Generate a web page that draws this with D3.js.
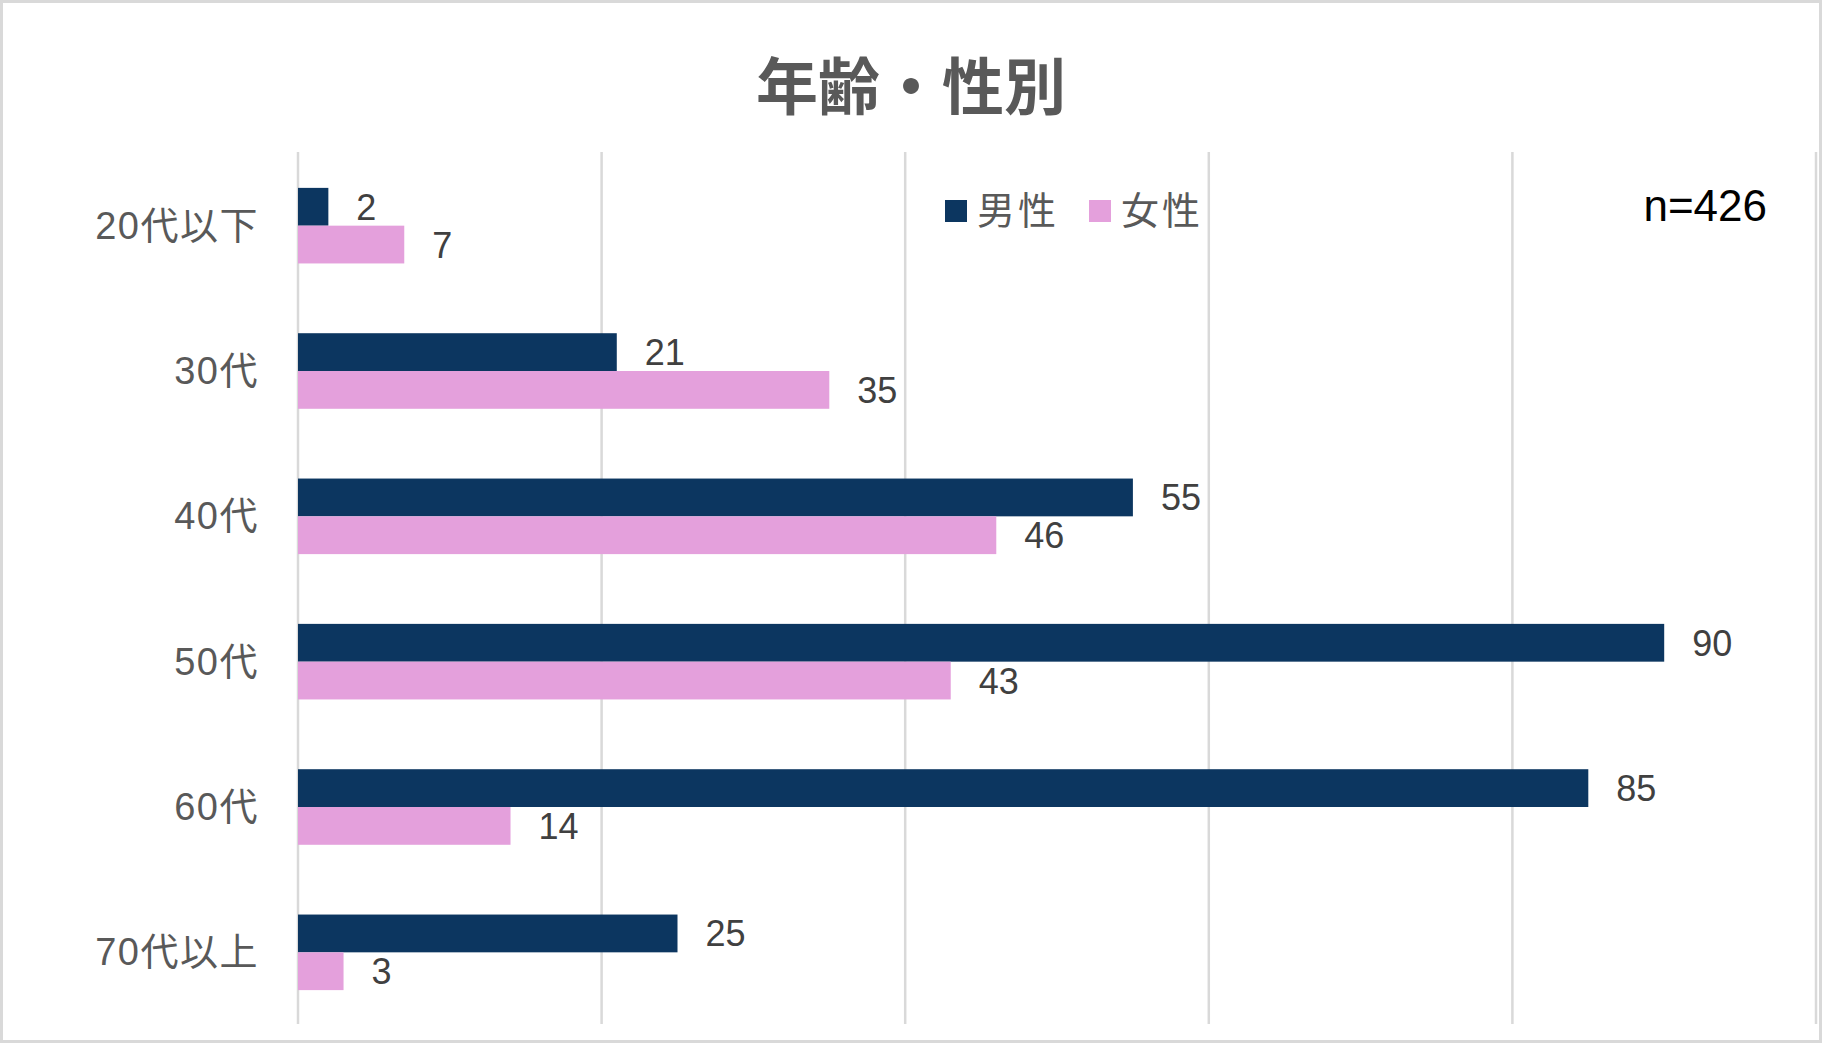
<!DOCTYPE html>
<html>
<head>
<meta charset="utf-8">
<script src="https://cdn.jsdelivr.net/npm/d3@7"></script>
<style>
  body { margin: 0; background: #fff; }
  svg text { font-family: "Liberation Sans", Arial, "Noto Sans CJK JP", sans-serif; }
</style>
</head>
<body>
<svg id="chart" width="1822" height="1043"></svg>
<script>
// age groups and counts by sex
const categories = ["20代以下", "30代", "40代", "50代", "60代", "70代以上"];
const male = [2, 21, 55, 90, 85, 25];
const female = [7, 35, 46, 43, 14, 3];
const seriesNames = ["男性", "女性"];
const xTicks = [0, 20, 40, 60, 80, 100];

const colors = ["#0c3660", "#e4a0dc"];

function drawChart() {
    const svg = d3.select("#chart");
    const width = +svg.attr("width");
    const height = +svg.attr("height");

    // outer frame
    svg.append("rect")
    .attr("x", 1.5).attr("y", 1.5)
    .attr("width", width - 3).attr("height", height - 3)
    .attr("fill", "#fff")
    .attr("stroke", "#d9d9d9")
    .attr("stroke-width", 3);

    const x = d3.scaleLinear().domain([0, 100]).range([298, 1816]);
    const y = d3.scaleBand().domain(categories).range([153, 1025])
        .paddingInner(0.48).paddingOuter(0.24);
    const sub = d3.scaleBand().domain([0, 1]).range([0, y.bandwidth()]);

    // gridlines
    svg.selectAll("line.grid")
    .data(xTicks)
    .enter()
    .append("line")
    .attr("class", "grid")
    .attr("x1", d => x(d)).attr("x2", d => x(d))
    .attr("y1", 152).attr("y2", 1024)
    .attr("stroke", "#d9d9d9")
    .attr("stroke-width", 2.5);

    // title
    svg.append("text")
    .attr("x", width / 2)
    .attr("y", 110)
    .attr("text-anchor", "middle")
    .attr("font-size", "62px")
    .attr("font-weight", "bold")
    .attr("fill", "#595959")
    .text("年齢・性別");

    const rows = [male, female];
    rows.forEach((vals, s) => {
        const data = categories.map((c, i) => ({ cat: c, v: vals[i] }));
        svg.selectAll(`rect.s${s}`)
        .data(data)
        .enter()
        .append("rect")
        .attr("class", `s${s}`)
        .attr("x", x(0))
        .attr("y", d => y(d.cat) + sub(s))
        .attr("width", d => x(d.v) - x(0))
        .attr("height", sub.bandwidth())
        .attr("fill", colors[s]);

        svg.selectAll(`text.v${s}`)
        .data(data)
        .enter()
        .append("text")
        .attr("class", `v${s}`)
        .attr("x", d => x(d.v) + 28)
        .attr("y", d => y(d.cat) + sub(s) + sub.bandwidth() / 2 + 13)
        .attr("font-size", "36px")
        .attr("fill", "#404040")
        .text(d => d.v);
    });

    // category labels
    svg.selectAll("text.cat")
    .data(categories)
    .enter()
    .append("text")
    .attr("class", "cat")
    .attr("x", 259)
    .attr("y", d => y(d) + y.bandwidth() / 2 + 13)
    .attr("text-anchor", "end")
    .attr("font-size", "38px")
    .attr("letter-spacing", "1.5px")
    .attr("fill", "#595959")
    .text(d => d);

    // legend
    const legendX = [945, 1089];
    seriesNames.forEach((name, i) => {
        svg.append("rect")
        .attr("x", legendX[i]).attr("y", 200)
        .attr("width", 22).attr("height", 22)
        .attr("fill", colors[i]);
        svg.append("text")
        .attr("x", legendX[i] + 32)
        .attr("y", 224)
        .attr("font-size", "38px")
        .attr("letter-spacing", "3px")
        .attr("fill", "#595959")
        .text(name);
    });

    // sample size
    svg.append("text")
    .attr("x", 1767)
    .attr("y", 221)
    .attr("text-anchor", "end")
    .attr("font-size", "44px")
    .attr("fill", "#000")
    .text("n=426");
}

drawChart();
</script>
</body>
</html>
